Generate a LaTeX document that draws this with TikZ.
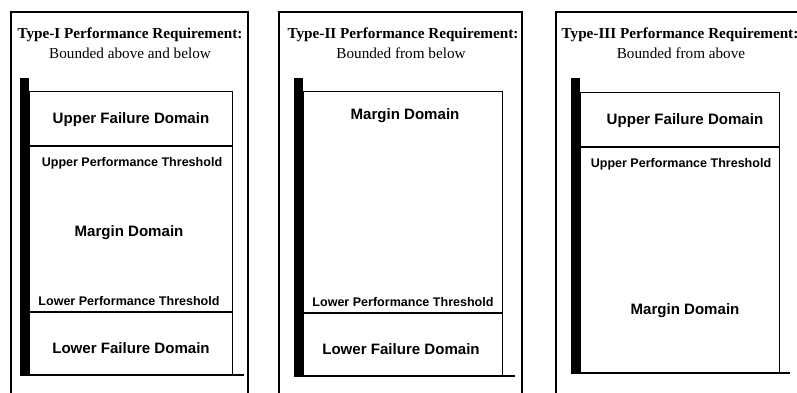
\documentclass[tikz,border=0pt]{standalone}
\usepackage{fontspec}
\setmainfont{Liberation Serif}
\setsansfont{Liberation Sans}

\begin{document}
\begin{tikzpicture}[x=0.75pt,y=-0.75pt,
	titletext/.style={font=\fontsize{11.4}{13}\selectfont\bfseries},
	subtitletext/.style={font=\fontsize{11.4}{13}\selectfont},
	domaintext/.style={font=\fontsize{11.3}{13}\selectfont\sffamily\bfseries},
	thresholdtext/.style={font=\fontsize{9.4}{11}\selectfont\sffamily\bfseries},
	frameline/.style={line width=1.1pt},
	boxline/.style={line width=0.6pt},
	limitline/.style={line width=1.9pt},
	floorline/.style={line width=1.5pt}]
	\clip (0,0) rectangle (797,393);

	\draw[frameline] (11,400) -- (11,12) -- (248,12) -- (248,400);
	\fill (20,78) rectangle (29,376);
	\draw[boxline] (29,91) rectangle (232,375);
	\draw[limitline] (29,146) -- (232,146);
	\draw[limitline] (29,312) -- (232,312);
	\draw[floorline] (20,375) -- (244,375);

	\draw[frameline] (279,400) -- (279,12) -- (522,12) -- (522,400);
	\fill (294,78) rectangle (303,377);
	\draw[boxline] (303,91) rectangle (502,376);
	\draw[limitline] (303,313) -- (502,313);
	\draw[floorline] (294,376) -- (515,376);

	\draw[frameline] (556,400) -- (556,12) -- (820,12);
	\fill (571,78) rectangle (580,374);
	\draw[boxline] (580,92) rectangle (779,373);
	\draw[limitline] (580,147) -- (779,147);
	\draw[floorline] (571,373) -- (790,373);

	\node[titletext] (T1) at (130,35) {Type-I Performance Requirement:};
	\node[subtitletext] (S1) at (130,53) {Bounded above and below};
	\node[domaintext] (U1) at (131,120) {Upper Failure Domain};
	\node[thresholdtext] (UT1) at (132,163) {Upper Performance Threshold};
	\node[domaintext] (M1) at (129,233) {Margin Domain};
	\node[thresholdtext] (LT1) at (129,301) {Lower Performance Threshold};
	\node[domaintext] (L1) at (131,348) {Lower Failure Domain};

	\node[titletext] (T2) at (403,35) {Type-II Performance Requirement:};
	\node[subtitletext] (S2) at (401,53) {Bounded from below};
	\node[domaintext] (M2) at (405,116) {Margin Domain};
	\node[thresholdtext] (LT2) at (403,302) {Lower Performance Threshold};
	\node[domaintext] (L2) at (401,349) {Lower Failure Domain};

	\node[titletext] (T3) at (680,35) {Type-III Performance Requirement:};
	\node[subtitletext] (S3) at (681,53) {Bounded from above};
	\node[domaintext] (U3) at (685,121) {Upper Failure Domain};
	\node[thresholdtext] (UT3) at (681,164) {Upper Performance Threshold};
	\node[domaintext] (M3) at (685,311) {Margin Domain};

\end{tikzpicture}
\end{document}
